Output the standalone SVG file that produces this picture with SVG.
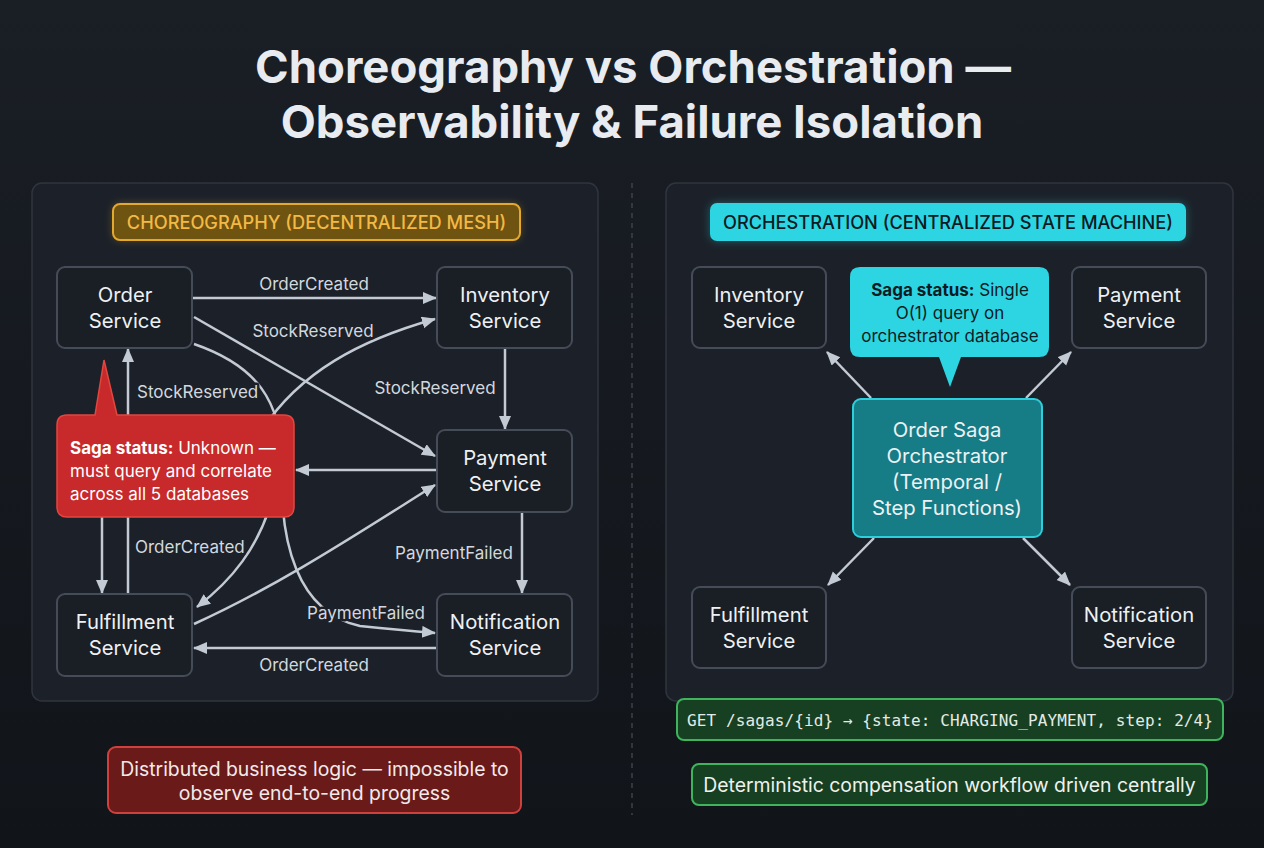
<svg xmlns="http://www.w3.org/2000/svg" width="1264" height="848" viewBox="0 0 1264 848">
<defs>
<linearGradient id="bg" x1="0" y1="0" x2="0" y2="1"><stop offset="0" stop-color="#1a1e25"/><stop offset="1" stop-color="#11151a"/></linearGradient>
<marker id="ah" markerUnits="userSpaceOnUse" markerWidth="16" markerHeight="14" refX="13" refY="6" orient="auto"><path d="M0,0 L14,6 L0,12 z" fill="#c3cad3"/></marker>
<filter id="glow" x="-20%" y="-40%" width="140%" height="180%"><feGaussianBlur stdDeviation="4"/></filter>
<style>
.panel{fill:#1c2129;stroke:#2f353e;stroke-width:1.5}
.node{fill:#1a1e25;stroke:#454c57;stroke-width:2}
.nt{font-family:Inter,"Liberation Sans",sans-serif;font-size:20.3px;fill:#eef1f4;text-anchor:middle}
.el{font-family:Inter,"Liberation Sans",sans-serif;font-size:17px;fill:#d3d8de}
.halo{paint-order:stroke;stroke:#1c2129;stroke-width:5px;stroke-linejoin:round}
.c{fill:none;stroke:#c3cad3;stroke-width:2.5;marker-end:url(#ah)}
.ct{font-family:Inter,"Liberation Sans",sans-serif;font-size:17px}
.note{font-family:Inter,"Liberation Sans",sans-serif;font-size:19.4px;text-anchor:middle}
</style>
</defs>
<rect width="1264" height="848" fill="url(#bg)"/>
<g id="title" font-family="Inter,'Liberation Sans',sans-serif" font-weight="700" font-size="45.5" fill="#e8ebef" text-anchor="middle">
<text x="633" y="83">Choreography vs Orchestration —</text>
<text x="632" y="138">Observability &amp; Failure Isolation</text>
</g>
<line x1="632" y1="183" x2="632" y2="815" stroke="#3a414b" stroke-width="1.5" stroke-dasharray="5 5"/>
<rect id="left-panel" class="panel" x="32" y="183" width="566" height="518" rx="10"/>
<rect id="right-panel" class="panel" x="666" y="183" width="567" height="518" rx="10"/>
<g id="left-badge">
<rect x="113" y="204" width="407" height="36" rx="7" fill="#e3a92f" opacity="0.35" filter="url(#glow)"/>
<rect x="113" y="204" width="407" height="36" rx="7" fill="#6f5310" stroke="#e3a92f" stroke-width="2"/>
<text x="316.5" y="228.5" text-anchor="middle" font-family="Inter,'Liberation Sans',sans-serif" font-weight="500" font-size="18.2" fill="#f3b944">CHOREOGRAPHY (DECENTRALIZED MESH)</text>
</g>
<g id="right-badge">
<rect x="710" y="203" width="476" height="38" rx="7" fill="#2dd5e3" opacity="0.35" filter="url(#glow)"/>
<rect x="710" y="203" width="476" height="38" rx="7" fill="#2dd5e3"/>
<text x="948" y="228.5" text-anchor="middle" font-family="Inter,'Liberation Sans',sans-serif" font-weight="500" font-size="18.2" fill="#0b1a22">ORCHESTRATION (CENTRALIZED STATE MACHINE)</text>
</g>
<g id="connectors">
<line class="c" x1="193" y1="298" x2="436" y2="298"/>
<line class="c" x1="194" y1="317" x2="435" y2="456"/>
<path class="c" d="M194 344 C255 365 284 400 282 470 C280 540 296 612 360 626 Q400 630 435 633"/>
<path class="c" d="M262 430 C300 372 360 340 435 319"/>
<path class="c" d="M272 500 C258 548 232 580 197 607"/>
<line class="c" x1="505" y1="348" x2="505" y2="429"/>
<line class="c" x1="437" y1="470" x2="296" y2="470"/>
<path class="c" d="M194 624 C280 585 360 532 435 485"/>
<line class="c" x1="522" y1="512" x2="522" y2="593"/>
<line class="c" x1="437" y1="648" x2="194" y2="648"/>
<line class="c" x1="102" y1="500" x2="102" y2="593"/>
<line class="c" x1="128" y1="594" x2="128" y2="349"/>
<line class="c" x1="871" y1="398" x2="827" y2="352"/>
<line class="c" x1="1026" y1="398" x2="1071" y2="352"/>
<line class="c" x1="874" y1="538" x2="828" y2="585"/>
<line class="c" x1="1023" y1="538" x2="1070" y2="585"/>
<text class="el halo" x="314" y="290" text-anchor="middle">OrderCreated</text>
<text class="el halo" x="313" y="337" text-anchor="middle">StockReserved</text>
<text class="el halo" x="137" y="398">StockReserved</text>
<text class="el halo" x="435" y="394" text-anchor="middle">StockReserved</text>
<text class="el halo" x="135" y="553">OrderCreated</text>
<text class="el halo" x="454" y="559" text-anchor="middle">PaymentFailed</text>
<text class="el halo" x="366" y="619" text-anchor="middle">PaymentFailed</text>
<text class="el halo" x="314" y="671" text-anchor="middle">OrderCreated</text>
</g>
<g id="order-service"><rect class="node" x="57" y="267" width="135" height="81" rx="8"/><text class="nt" x="125" y="302">Order</text><text class="nt" x="125" y="328">Service</text></g>
<g id="inventory-service"><rect class="node" x="437" y="267" width="135" height="81" rx="8"/><text class="nt" x="505" y="302">Inventory</text><text class="nt" x="505" y="328">Service</text></g>
<g id="payment-service"><rect class="node" x="437" y="430" width="135" height="82" rx="8"/><text class="nt" x="505" y="465">Payment</text><text class="nt" x="505" y="491">Service</text></g>
<g id="fulfillment-service"><rect class="node" x="57" y="594" width="135" height="82" rx="8"/><text class="nt" x="125" y="629">Fulfillment</text><text class="nt" x="125" y="655">Service</text></g>
<g id="notification-service"><rect class="node" x="437" y="594" width="135" height="82" rx="8"/><text class="nt" x="505" y="629">Notification</text><text class="nt" x="505" y="655">Service</text></g>
<g id="saga-status-unknown">
<path d="M67 415 L95 415 L104 360 L117 415 L284 415 Q294 415 294 425 L294 507 Q294 517 284 517 L67 517 Q57 517 57 507 L57 425 Q57 415 67 415 Z" fill="#c8292b" stroke="#e2463f" stroke-width="1.5"/>
<text class="ct" x="70" y="454" fill="#ffffff"><tspan font-weight="700">Saga status:</tspan> Unknown —</text>
<text class="ct" x="70" y="477" fill="#ffffff">must query and correlate</text>
<text class="ct" x="70" y="500" fill="#ffffff">across all 5 databases</text>
</g>
<g id="r-inventory-service"><rect class="node" x="692" y="267" width="134" height="81" rx="8"/><text class="nt" x="759" y="302">Inventory</text><text class="nt" x="759" y="328">Service</text></g>
<g id="r-payment-service"><rect class="node" x="1072" y="267" width="134" height="81" rx="8"/><text class="nt" x="1139" y="302">Payment</text><text class="nt" x="1139" y="328">Service</text></g>
<g id="r-fulfillment-service"><rect class="node" x="692" y="587" width="134" height="81" rx="8"/><text class="nt" x="759" y="622">Fulfillment</text><text class="nt" x="759" y="648">Service</text></g>
<g id="r-notification-service"><rect class="node" x="1072" y="587" width="134" height="81" rx="8"/><text class="nt" x="1139" y="622">Notification</text><text class="nt" x="1139" y="648">Service</text></g>
<g id="saga-status-single">
<path d="M860 267 L1039 267 Q1049 267 1049 277 L1049 347 Q1049 357 1039 357 L961 357 L950 387 L939 357 L860 357 Q850 357 850 347 L850 277 Q850 267 860 267 Z" fill="#2dd5e3"/>
<text class="ct" x="950" y="296" text-anchor="middle" fill="#0d1b22"><tspan font-weight="700">Saga status:</tspan> Single</text>
<text class="ct" x="950" y="319" text-anchor="middle" fill="#0d1b22">O(1) query on</text>
<text class="ct" x="950" y="342" text-anchor="middle" fill="#0d1b22">orchestrator database</text>
</g>
<g id="orchestrator">
<rect x="853" y="399" width="189" height="138" rx="8" fill="#167c85" stroke="#2dcfdc" stroke-width="2"/>
<text class="nt" x="947" y="437">Order Saga</text>
<text class="nt" x="947" y="463">Orchestrator</text>
<text class="nt" x="947" y="489">(Temporal /</text>
<text class="nt" x="947" y="515">Step Functions)</text>
</g>
<g id="saga-api">
<rect x="677" y="699" width="546" height="41" rx="7" fill="#173f22" stroke="#3fb45c" stroke-width="2"/>
<text x="950" y="726" text-anchor="middle" font-family="'DejaVu Sans Mono','Liberation Mono',monospace" font-size="16" fill="#e3ebe4" textLength="526">GET /sagas/{id} → {state: CHARGING_PAYMENT, step: 2/4}</text>
</g>
<g id="deterministic-note">
<rect x="692" y="764" width="515" height="41" rx="7" fill="#173f22" stroke="#3fb45c" stroke-width="2"/>
<text class="note" x="949.5" y="792" fill="#eef2ee">Deterministic compensation workflow driven centrally</text>
</g>
<g id="distributed-note">
<rect x="108" y="747" width="413" height="66" rx="8" fill="#6b1a1a" stroke="#d0403c" stroke-width="2"/>
<text class="note" x="314.5" y="776" fill="#f2eaea">Distributed business logic — impossible to</text>
<text class="note" x="314.5" y="800" fill="#f2eaea">observe end-to-end progress</text>
</g>
</svg>
